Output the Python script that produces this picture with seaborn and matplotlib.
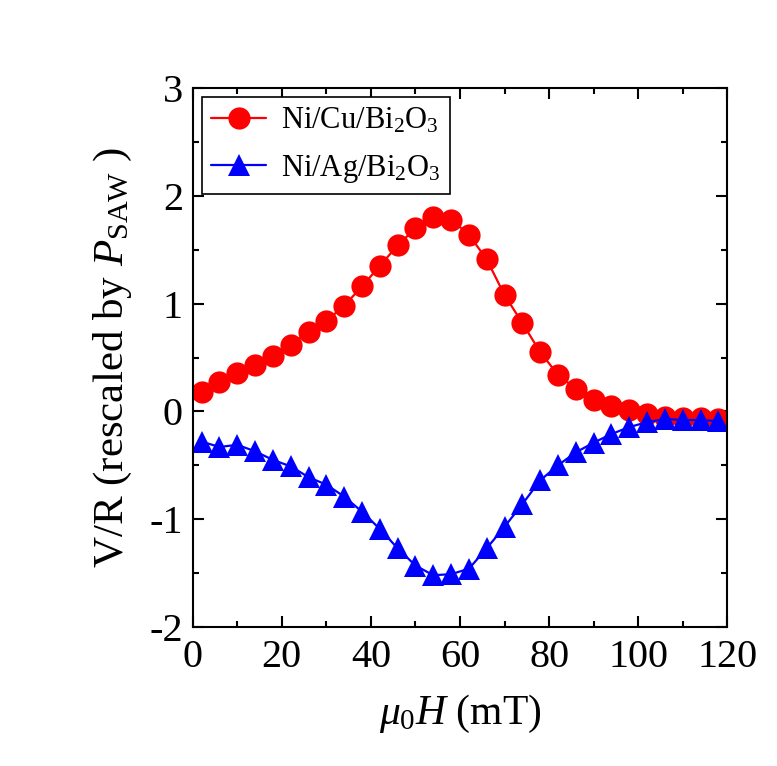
import numpy as np
import pandas as pd
import matplotlib
matplotlib.use('Agg')
import matplotlib.pyplot as plt
import seaborn as sns
from matplotlib.ticker import MultipleLocator

# Field values (mT)
field = [2, 6, 10, 14, 18, 22, 26, 30, 34, 38, 42, 46, 50, 54, 58,
         62, 66, 70, 74, 78, 82, 86, 90, 94, 98, 102, 106, 110, 114, 118]

# Ni/Cu/Bi2O3 (red circles)
cu_vals = [0.18, 0.27, 0.36, 0.43, 0.51, 0.62, 0.74, 0.84, 0.98, 1.16,
           1.35, 1.54, 1.70, 1.80, 1.78, 1.64, 1.41, 1.08, 0.82, 0.55,
           0.34, 0.21, 0.11, 0.05, 0.01, -0.02, -0.05, -0.06, -0.06, -0.07]

# Ni/Ag/Bi2O3 (blue triangles)
ag_vals = [-0.28, -0.33, -0.31, -0.37, -0.45, -0.51, -0.61, -0.68, -0.79, -0.93,
           -1.09, -1.27, -1.43, -1.52, -1.51, -1.46, -1.27, -1.07, -0.86, -0.64,
           -0.50, -0.38, -0.29, -0.21, -0.145, -0.10, -0.07, -0.08, -0.08, -0.09]

labels = ['Ni/Cu/Bi$_2$O$_3$', 'Ni/Ag/Bi$_2$O$_3$']

df = pd.DataFrame({
    'field': field * 2,
    'value': cu_vals + ag_vals,
    'sample': [labels[0]] * len(field) + [labels[1]] * len(field),
})

sns.set_style('ticks')
plt.rcParams['font.family'] = ['Liberation Serif', 'DejaVu Serif']
plt.rcParams['mathtext.fontset'] = 'custom'
plt.rcParams['mathtext.rm'] = 'Liberation Serif'
plt.rcParams['mathtext.it'] = 'Liberation Serif:italic'
plt.rcParams['mathtext.bf'] = 'Liberation Serif:bold'
plt.rcParams['axes.unicode_minus'] = False
plt.rcParams['text.color'] = 'black'
plt.rcParams['axes.labelcolor'] = 'black'
plt.rcParams['xtick.color'] = 'black'
plt.rcParams['ytick.color'] = 'black'

fig = plt.figure(figsize=(7.77, 7.66), dpi=100)
ax = fig.add_axes([0.248, 0.1815, 0.688, 0.7035])

sns.lineplot(data=df, x='field', y='value', hue='sample', style='sample',
             markers={labels[0]: 'o', labels[1]: '^'}, dashes=False,
             palette={labels[0]: '#FF0000', labels[1]: '#0000FF'},
             markersize=16, markeredgewidth=0, linewidth=1.6, ax=ax)

ax.set_xlim(0, 120)
ax.set_ylim(-2, 3)
ax.xaxis.set_major_locator(MultipleLocator(20))
ax.xaxis.set_minor_locator(MultipleLocator(10))
ax.yaxis.set_major_locator(MultipleLocator(1))
ax.yaxis.set_minor_locator(MultipleLocator(0.5))
ax.tick_params(which='both', direction='in', top=True, right=True, width=1.5,
               labelsize=29, color='black', labelcolor='black')
ax.tick_params(which='major', length=8, pad=7)
ax.tick_params(axis='x', which='major', pad=9)
ax.tick_params(which='minor', length=4.5)
for s in ax.spines.values():
    s.set_linewidth(1.5)
    s.set_color('black')

ax.set_xlabel(r'$\mu_0H$ (mT)', fontsize=30, labelpad=12)
ax.set_ylabel(r'V/R (rescaled by $P_{\rm SAW}\ $)', fontsize=31, labelpad=11)

leg = ax.legend(loc='upper left', fontsize=22, frameon=True, fancybox=False,
                edgecolor='black', framealpha=1, handlelength=1.8,
                borderaxespad=0.3, handletextpad=0.5, borderpad=0.3,
                labelspacing=0.55)
leg.get_frame().set_linewidth(1.2)

fig.savefig('out.png', dpi=100)
